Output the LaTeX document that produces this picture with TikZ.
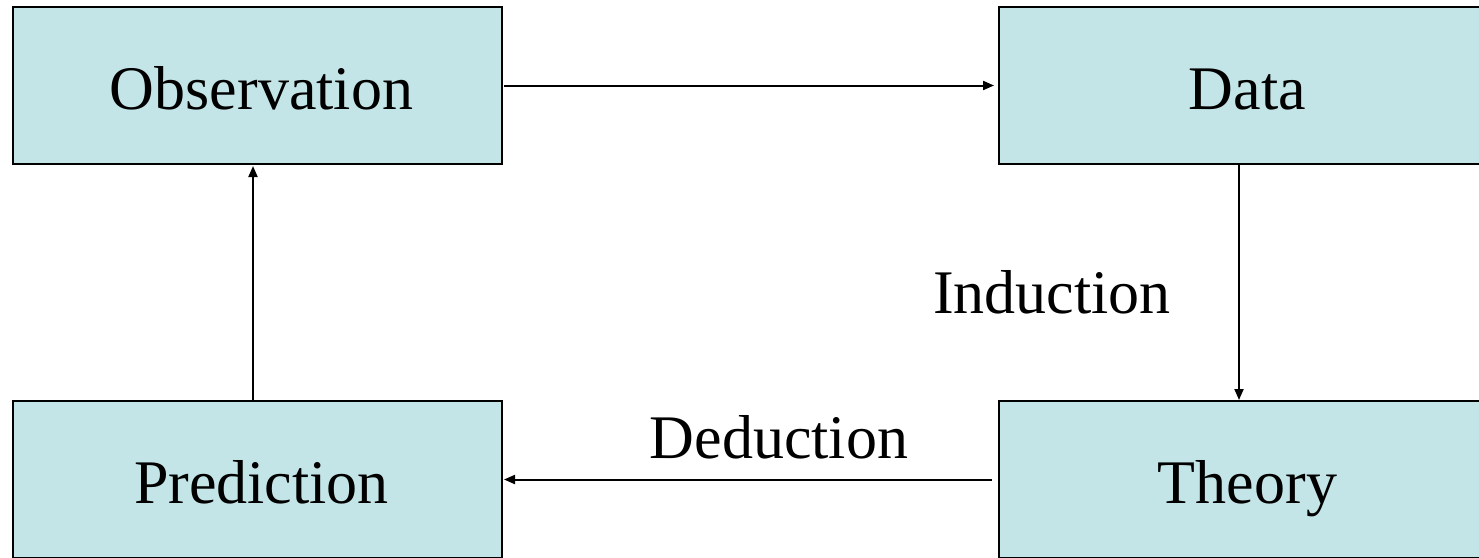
\documentclass[tikz,border=0pt]{standalone}
\usepackage{fontspec}
\setmainfont{Liberation Serif}
\usetikzlibrary{arrows.meta}
\definecolor{boxfill}{RGB}{196,229,231}
\begin{document}
\begin{tikzpicture}[x=1pt,y=-1pt,
  stagebox/.style={draw=black,line width=2.5pt,fill=boxfill,minimum width=489pt,minimum height=157pt,inner sep=0pt,outer sep=0pt,text height=50pt,text depth=3pt,execute at begin node={\hspace*{8pt}},font=\fontsize{62}{70}\selectfont},
  flow/.style={line width=2pt,-{Triangle[length=11pt,width=9pt]}},
  lbl/.style={font=\fontsize{62}{70}\selectfont,inner sep=0pt}]
\useasboundingbox (0,0) rectangle (1479,557);
\begin{scope}
\clip (0,0) rectangle (1479,557);
\node[stagebox] (obs) at (257.5,85.5) {Observation};
\node[stagebox] (data) at (1243.5,85.5) {Data};
\node[stagebox] (pred) at (257.5,479.5) {Prediction};
\node[stagebox] (theory) at (1243.5,479.5) {Theory};
\draw[flow,shorten <=2pt,shorten >=5pt] (obs.east) -- (data.west);
\draw[flow,shorten <=1pt,shorten >=1pt] ([xshift=-4.5pt]data.south) -- ([xshift=-4.5pt]theory.north);
\draw[flow,shorten <=7pt,shorten >=2pt] (theory.west) -- (pred.east);
\draw[flow,shorten <=1pt,shorten >=2pt] ([xshift=-4.5pt]pred.north) -- ([xshift=-4.5pt]obs.south);
\node[lbl,anchor=base] (ind) at (1052,313) {Induction};
\node[lbl,anchor=base] (ded) at (779,458) {Deduction};
\end{scope}
\end{tikzpicture}
\end{document}
